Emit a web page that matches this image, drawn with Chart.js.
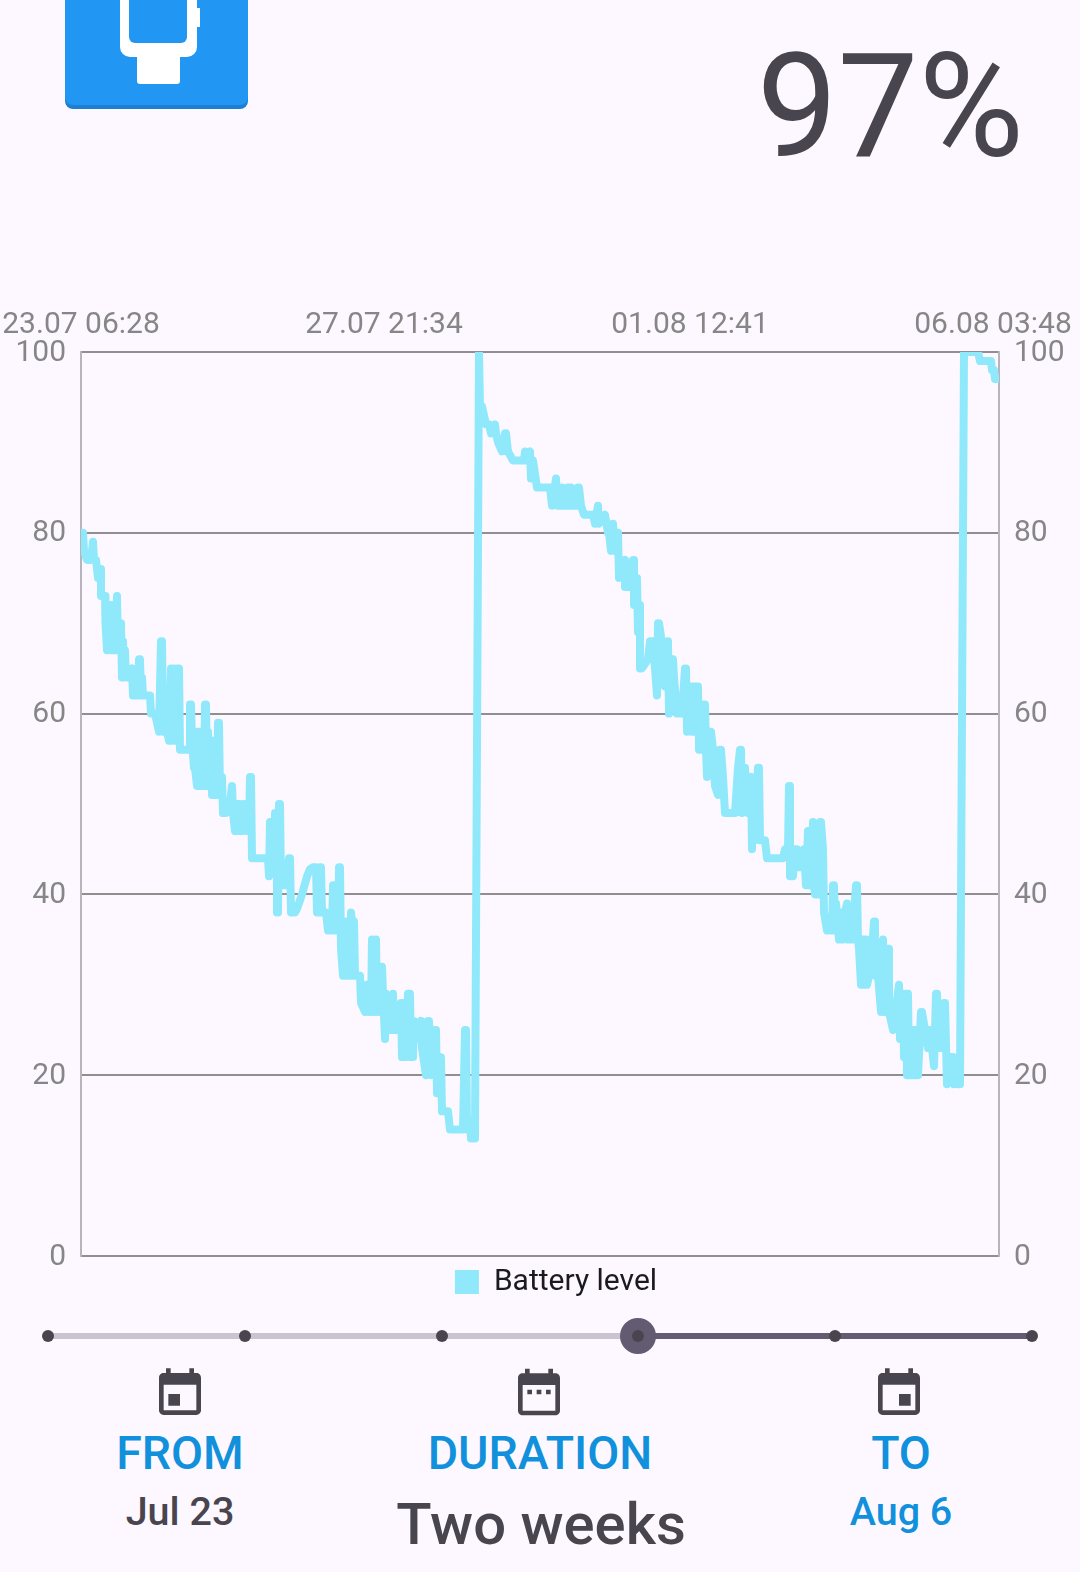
<!DOCTYPE html>
<html lang="en">
<head>
<meta charset="UTF-8">
<title>Battery level</title>
<script src="https://cdn.jsdelivr.net/npm/chart.js"></script>
<style>
    html, body { margin: 0; padding: 0; background: #fdf8ff; }
    body { width: 1080px; height: 1572px; position: relative; overflow: hidden; font-family: Roboto, sans-serif; color: #49454f; }
    .abs { position: absolute; }
    .txt { position: absolute; white-space: nowrap; transform: translateX(-50%); line-height: 1; font-weight: 500; }
    .blue { color: #1190dc; }
    #chartBox { position: absolute; left: 0; top: 290px; width: 1112px; height: 1017px; }
</style>
</head>
<body>
<svg class="abs" style="left:0;top:0" width="300" height="115">
    <path d="M65 0H248V101a8 8 0 0 1-8 8H73a8 8 0 0 1-8-8Z" fill="#1f7ed2"/>
    <path d="M65 0H248V97a8 8 0 0 1-8 8H73a8 8 0 0 1-8-8Z" fill="#2196f3"/>
    <path d="M120 0H197V8H200V27H197V47a10 10 0 0 1-10 10H180V81a3 3 0 0 1-3 3H140a3 3 0 0 1-3-3V57H130a10 10 0 0 1-10-10Z" fill="#fff"/>
    <path d="M129 0H187V37a6 6 0 0 1-6 6H135a6 6 0 0 1-6-6Z" fill="#2196f3"/>
</svg>
<div class="abs" style="right:56px;top:24px;font-size:144px;font-weight:400;line-height:1.15">97%</div>

<div id="chartBox"><canvas id="batteryChart" width="1112" height="1017"></canvas></div>

<svg class="abs" style="left:0;top:1310px" width="1080" height="60">
    <line x1="48" y1="26" x2="638" y2="26" stroke="#cac4d0" stroke-width="6"/>
    <line x1="638" y1="26" x2="1032" y2="26" stroke="#625b71" stroke-width="6"/>
    <circle cx="638" cy="26" r="18" fill="#625b71"/>
    <circle cx="48" cy="26" r="6" fill="#49454f"/>
    <circle cx="245" cy="26" r="6" fill="#49454f"/>
    <circle cx="442" cy="26" r="6" fill="#49454f"/>
    <circle cx="638" cy="26" r="6" fill="#49454f"/>
    <circle cx="835" cy="26" r="6" fill="#49454f"/>
    <circle cx="1032" cy="26" r="6" fill="#49454f"/>
</svg>

<svg class="abs" style="left:152px;top:1366px" width="56" height="56" viewBox="0 0 24 24" fill="#49454f">
    <path d="M7 12h5v5H7zM16 1v2H8V1H6v2H5c-1.11 0-1.99.9-1.99 2L3 19c0 1.1.89 2 2 2h14c1.1 0 2-.9 2-2V5c0-1.1-.9-2-2-2h-1V1h-2zm3 18H5V8h14v11z"/>
</svg>
<svg class="abs" style="left:511px;top:1364px" width="56" height="56" viewBox="0 0 24 24" fill="#49454f">
    <path d="M9 11H7v2h2v-2zm4 0h-2v2h2v-2zm4 0h-2v2h2v-2zm2-7h-1V2h-2v2H8V2H6v2H5c-1.11 0-1.99.9-1.99 2L3 20c0 1.1.89 2 2 2h14c1.1 0 2-.9 2-2V6c0-1.1-.9-2-2-2zm0 16H5V9h14v11z"/>
</svg>
<svg class="abs" style="left:871px;top:1366px" width="56" height="56" viewBox="0 0 24 24" fill="#49454f">
    <path d="M17 12h-5v5h5v-5zM16 1v2H8V1H6v2H5c-1.11 0-1.99.9-1.99 2L3 19c0 1.1.89 2 2 2h14c1.1 0 2-.9 2-2V5c0-1.1-.9-2-2-2h-1V1h-2zm3 18H5V8h14v11z"/>
</svg>

<div class="txt blue" style="left:180px;top:1430px;font-size:46.5px">FROM</div>
<div class="txt blue" style="left:540px;top:1430px;font-size:46.5px">DURATION</div>
<div class="txt blue" style="left:901px;top:1430px;font-size:46.5px">TO</div>
<div class="txt" style="left:180px;top:1492px;font-size:39.5px">Jul 23</div>
<div class="txt" style="left:541px;top:1495px;font-size:58px">Two weeks</div>
<div class="txt blue" style="left:901px;top:1492px;font-size:39.5px">Aug 6</div>

<script>
// readings, x is the sample number (one sample about every 22 minutes since 23.07 06:28)
const firstSamples = [
    0,2,3,6,10,12,13,15,16,17,
    18,20,20,23,24,24.5,26,28,30,30,
    31,32,33,34,36,37,38,39,40,41,
    42,43,44,45,48,51,52,53,54,55,
    56,57,58,59,60,61,62,69,70,74,
    78,80,81,82,83,84,85,86,88,90,
    91,92,93,94,96,98,99,104,109,109,
    110,111,113,114,116,117,118,119,120,122,
    123,124,125,126,127,128,129,130,131,132,
    133,134,135,136,137,138,139,141,142,145,
    149,151,152,154,155,156,157,158,159,161,
    163,165,166,167,168,169,170,171,187,188,
    189,192,193,194,196,196,197,198,199,200,
    205,208,209,210];
const firstLevels = [
    80,80,78,77,77,79,77,77,76,75,
    76,76,73,73,73,70,67,72,72,67,
    70,67,70,67,73,67,70,67,70,64,
    68,64,67,64,64,65,62,64,62,64,
    62,62,66,66,62,64,62,62,60,60,
    58,68,68,58,62,59,62,58,57,65,
    57,60,65,57,65,65,56,56,56,61,
    61,57,54,54,52,58,52,58,52,56,
    52,61,61,52,58,52,52,57,51,57,
    51,56,51,51,59,59,51,53,49,49,
    50,52,49,47,50,47,50,47,50,47,
    50,50,47,50,47,53,53,44,44,42,
    48,48,44,49,49,38,38,50,50,41,
    41,44,44,38];

const curveSamples = [
    214,216,221,226,229,232,235,236,238,239,
    240,241,245,247,248,249,250,251,252,253,
    254,255,256,257,258,259,260,262,263,264,
    266,267,268,269,270,271,271.5,272.5,273,274,
    279,280,284,286,287,288,290,291,292,293,
    294,295,296,297,299,300,301,302,304,305,
    307,311,312,313,320,320,321,322,323,324,
    325,327,329,330,331,332,333,335,340,341,
    345,347,348,350,354,355,356,360,361,367,
    369,382,384,385,386,389,390,394];
const curveLevels = [
    38,38.4,40,42,42.8,43,43,38,38,43,
    43,38,38,36,38,36,38,36,41,41,
    36,39,36,36,43,43,34,31,37,31,
    37,31,36,31,38,37,31,37,37,31,
    31,28,27,30,27,30,27,35,27,30,
    27,35,27,30,27,32,32,29,24,29,
    25,25,29,25,25,28,22,28,22,28,
    22,29,29,22,26,22,26,24,26,23,
    20,26,26,20,25,25,18,22,16,16,
    14,14,25,25,14,15,13,13];

const chargedSamples = [398,399,401,403,405,408,410,414,415,417,421,424,425,427,432,443,444,445,449,450,452,456,469,471,475,476,481,481,482,487,487,490,490,496,497,498,500,503,512,514,517,518,524,527,528,530,532,534,537,538,544,544,549,552,553,553,556,557,559,559,561,567,569,572,576,577,578,582,584,587,588,592];
const chargedLevels  = [100,94,94,93,92,92,91,92,91,90,89,91,91,89,88,88,89,88,89,86,88,85,85,83,86,83,83,85,83,83,85,85,83,83,85,85,83,82,82,81,83,81,82,80,80,78,81,78,80,75,77,74,74,77,77,72,75,69,72,65,65,66,68,68,62,70,70,67,63,68,60,66];

const laterSamples = [
    593,596,601,604,605,606,610,611,612,613,
    614,615,616,617,618,619,620,621,622,623,
    624,625,626,629,630,632,634,637,639,640,
    642,644,654,657,659,660,661,663,664,667,
    670,671,673,674,675,677,678,679,684,686,
    702,704,707,708,709,709,712,714,716,717,
    719,723,725,727,728,729,730,732,733,734,
    735,736,737,738,739,740,742,743,746,751,
    752,753,754,755,758,760,762,764,766,767,
    771,775,776,777];
const laterLevels = [
    64,60,60,65,65,58,63,58,63,58,
    63,58,63,63,56,61,56,61,56,61,
    61,56,53,58,58,56,52,51,56,56,
    53,49,49,54,56,56,49,54,54,49,
    53,45,52,46,50,54,54,46,46,44,
    44,45,45,52,52,42,42,45,45,44,
    43,45,41,47,41,47,41,48,41,40,
    47,40,47,40,48,48,45,38,36,36,
    41,41,36,39,35,38,35,38,39,35,
    35,41,41,35];

const lastSamples = [
    778,780,781,782,783,785,786,790,793,794,
    794,797,800,802,803,804,805,807,808,808,
    812,818,819,822,823,825,826,827,828,829,
    832,832,834,835,836,837,840,841,844,847,
    849,853,855,856,857,862,863,864,866,870,
    872,873,875,877,879,883,897,899,910,911,
    913,914,917];
const lastLevels = [
    34,30,35,30,35,35,30,32,37,37,
    31,31,27,35,27,32,27,34,34,27,
    25,30,24,29,22,29,20,29,20,20,
    25,20,25,20,25,20,27,27,25,23,
    25,21,29,29,23,23,28,28,19,22,
    22,19,21,19,19,100,100,99,99,98,
    98,97,97];

const xTicks = [0,303,609,912];
const xLabels = ['23.07 06:28','27.07 21:34','01.08 12:41','06.08 03:48'];
const yTicks = [0,20,40,60,80,100];

const sampleNums = [].concat(firstSamples, curveSamples, chargedSamples, laterSamples, lastSamples);
const batteryLevels = [].concat(firstLevels, curveLevels, chargedLevels, laterLevels, lastLevels);

const gray = '#868686';
const points = sampleNums.map((s, i) => ({x: s, y: batteryLevels[i]}));

function noPadding(axis) {
    axis.paddingLeft = 0;
    axis.paddingRight = 0;
    axis.paddingTop = 0;
    axis.paddingBottom = 0;
}

function yAxis(position, width) {
    return {
        type: 'linear',
        position: position,
        min: 0,
        max: 100,
        afterBuildTicks: axis => { axis.ticks = yTicks.map(v => ({value: v})); },
        afterFit: axis => { axis.width = width; noPadding(axis); },
        ticks: { color: gray, font: {family: 'Roboto', size: 30}, padding: 15, labelOffset: 1, autoSkip: false, maxRotation: 0 },
        grid: { color: '#8f8f8f', lineWidth: 2, drawTicks: false },
        border: { color: '#b8b4bc', width: 2 }
    };
}

new Chart(document.getElementById('batteryChart').getContext('2d'), {
    type: 'line',
    data: {
        datasets: [{
            label: 'Battery level',
            data: points,
            borderColor: '#8fe9fb',
            backgroundColor: '#8fe9fb',
            borderWidth: 8,
            borderJoinStyle: 'round',
            borderCapStyle: 'round',
            pointRadius: 0,
            tension: 0,
            fill: false
        }]
    },
    options: {
        responsive: false,
        animation: false,
        parsing: false,
        layout: { autoPadding: false, padding: 0 },
        plugins: {
            tooltip: { enabled: false },
            legend: {
                position: 'bottom',
                labels: {
                    boxWidth: 24,
                    boxHeight: 24,
                    padding: 11,
                    color: '#1b1b1f',
                    font: {family: 'Roboto', size: 30},
                    generateLabels: chart => Chart.defaults.plugins.legend.labels.generateLabels(chart).map(item => ({...item, lineWidth: 0}))
                }
            }
        },
        scales: {
            x: {
                type: 'linear',
                position: 'top',
                min: 0,
                max: 918,
                afterBuildTicks: axis => { axis.ticks = xTicks.map(v => ({value: v})); },
                afterFit: axis => { axis.height = 62; noPadding(axis); },
                ticks: {
                    color: gray,
                    font: {family: 'Roboto', size: 30},
                    padding: 1,
                    autoSkip: false,
                    maxRotation: 0,
                    callback: value => xLabels[xTicks.indexOf(value)]
                },
                grid: { display: false },
                border: { display: false }
            },
            y: yAxis('left', 81),
            y2: yAxis('right', 113)
        }
    }
});
</script>
</body>
</html>
